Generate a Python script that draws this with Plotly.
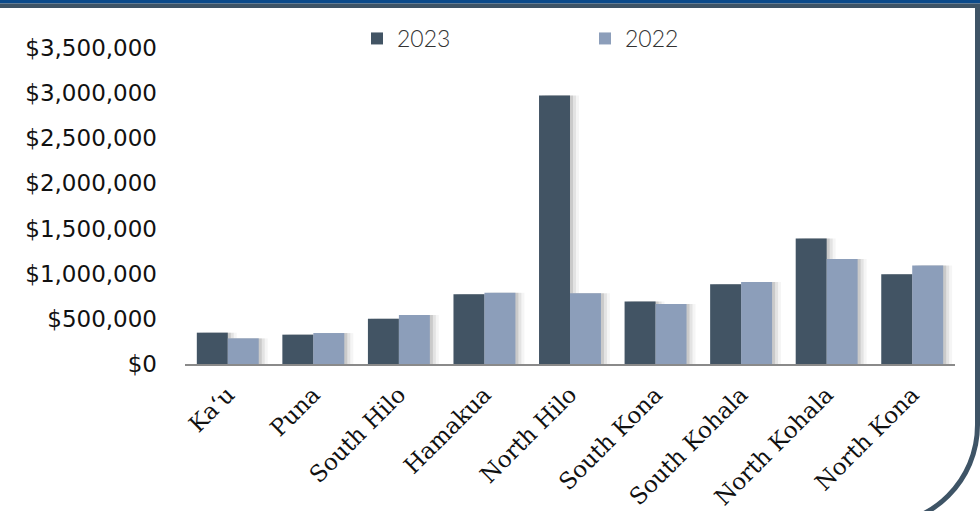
import plotly.graph_objects as go

categories = ["Kaʻu", "Puna", "South Hilo", "Hamakua", "North Hilo",
              "South Kona", "South Kohala", "North Kohala", "North Kona"]
values_2023 = [347000, 325000, 502000, 772000, 2975000, 692000, 882000, 1390000, 995000]
values_2022 = [284000, 343000, 542000, 790000, 785000, 665000, 907000, 1162000, 1092000]
tick_vals = [0, 500000, 1000000, 1500000, 2000000, 2500000, 3000000, 3500000]
tick_text = ["$0", "$500,000", "$1,000,000", "$1,500,000", "$2,000,000",
             "$2,500,000", "$3,000,000", "$3,500,000"]

W, H = 980, 511
L, R, T, B = 185, 25, 48, 147
PW, PH = W - L - R, H - T - B

def px(x):
    return (x - L) / PW

def py(y):
    return (H - B - y) / PH

C23 = "#425464"
C22 = "#8c9eba"
half = 0.362
pitch = PW / len(categories)
s1 = 3 / pitch
s2 = 6 / pitch
s3 = 9 / pitch

fig = go.Figure()
# soft shadows
for vals, off in ((values_2023, -half), (values_2022, 0.0)):
    fig.add_trace(go.Bar(x=categories, y=vals, width=half, offset=off + s3,
                         marker=dict(color="rgba(0,0,0,0.04)", line_width=0),
                         showlegend=False, hoverinfo="skip"))
    fig.add_trace(go.Bar(x=categories, y=vals, width=half, offset=off + s2,
                         marker=dict(color="rgba(0,0,0,0.07)", line_width=0),
                         showlegend=False, hoverinfo="skip"))
    fig.add_trace(go.Bar(x=categories, y=vals, width=half, offset=off + s1,
                         marker=dict(color="rgba(0,0,0,0.11)", line_width=0),
                         showlegend=False, hoverinfo="skip"))
fig.add_trace(go.Bar(x=categories, y=values_2023, name="2023", width=half, offset=-half,
                     marker=dict(color=C23, line_width=0)))
fig.add_trace(go.Bar(x=categories, y=values_2022, name="2022", width=half, offset=0.0,
                     marker=dict(color=C22, line_width=0)))

shapes = [
    dict(type="rect", xref="paper", yref="paper", x0=px(0), x1=px(W), y0=py(0), y1=py(3.5),
         fillcolor="#0b4a8a", line_width=0, layer="above"),
    dict(type="rect", xref="paper", yref="paper", x0=px(0), x1=px(W), y0=py(3.5), y1=py(8),
         fillcolor="#3e5466", line_width=0, layer="above"),
]
xr, yk, r = 977.5, 425, 100
k = 0.5523 * r
path = (f"M {px(xr)},{py(8)} L {px(xr)},{py(yk)} "
        f"C {px(xr)},{py(yk + k)} {px(xr - r + k)},{py(yk + r)} {px(xr - r)},{py(yk + r)}")
shapes.append(dict(type="path", xref="paper", yref="paper", path=path,
                   line=dict(color="#3e5466", width=5), layer="above"))

fig.update_layout(
    width=W, height=H,
    margin=dict(l=L, r=R, t=T, b=B, autoexpand=False),
    paper_bgcolor="white", plot_bgcolor="white",
    barmode="overlay",
    shapes=shapes,
    showlegend=True,
    legend=dict(orientation="h", x=px(357), xanchor="left", y=py(17), yanchor="top",
                entrywidth=183, entrywidthmode="pixels",
                font=dict(family="Lato", size=23, color="#333333", weight=300),
                bgcolor="rgba(0,0,0,0)", itemclick=False, itemdoubleclick=False),
    xaxis=dict(tickangle=-45, showgrid=False, showline=True, linecolor="#8a8a8a",
               linewidth=2, ticks="outside", ticklen=6, tickcolor="rgba(0,0,0,0)",
               range=[-0.5, len(categories) - 0.5],
               tickfont=dict(family="DejaVu Serif", size=23, color="#111111")),
    yaxis=dict(range=[0, 3500000], tickvals=tick_vals, ticktext=tick_text,
               showgrid=False, zeroline=False, showline=False, ticks="",
               ticklabelstandoff=27,
               tickfont=dict(family="DejaVu Sans", size=23, color="#111111")),
)

fig.write_html("out.html",
               config={"displayModeBar": False},
               post_script="document.body.style.margin='0';"
                           "document.documentElement.style.overflow='hidden';")
